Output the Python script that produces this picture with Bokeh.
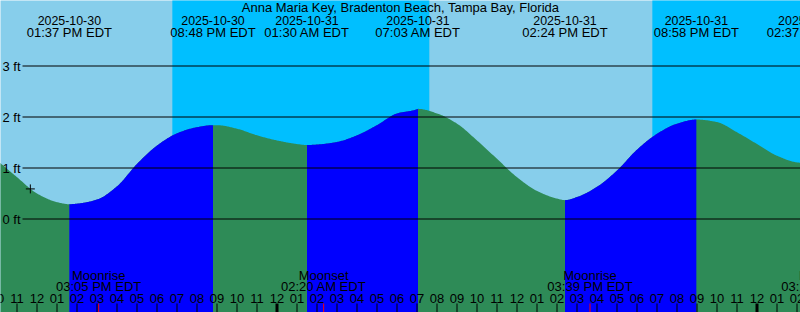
import numpy as np
import pandas as pd
from bokeh.plotting import figure
from bokeh.models import Range1d
from bokeh.embed import file_html
from bokeh.resources import INLINE
from bokeh.core.properties import value

TITLE = "Anna Maria Key, Bradenton Beach, Tampa Bay, Florida"
BASE = "2025-10-30 00:00"

# hourly water level (ft), 2025-10-30 10:00 .. 2025-11-01 03:00 EDT
hour_stamps = list(pd.date_range("2025-10-30 10:00", "2025-11-01 03:00", freq="h").strftime("%Y-%m-%d %H:%M"))
hour_heights = [1.15, 0.82, 0.50, 0.33, 0.30, 0.38, 0.64, 1.08, 1.44, 1.68,
                1.80, 1.84, 1.77, 1.64, 1.54, 1.47, 1.46, 1.51, 1.64, 1.84,
                2.07, 2.15, 2.07, 1.87, 1.54, 1.18, 0.82, 0.55, 0.40, 0.43,
                0.63, 0.95, 1.36, 1.67, 1.87, 1.95, 1.90, 1.70, 1.47, 1.24,
                1.11, 1.10]
hour_labels = list(pd.to_datetime(hour_stamps).strftime("%I"))

# tide extremes
ext_stamps = ["2025-10-30 13:37", "2025-10-30 20:48", "2025-10-31 01:30",
              "2025-10-31 07:03", "2025-10-31 14:24", "2025-10-31 20:58",
              "2025-11-01 02:37"]
ext_heights = [0.29, 1.84, 1.45, 2.16, 0.37, 1.95, 1.09]
ext_dates = list(pd.to_datetime(ext_stamps).strftime("%Y-%m-%d"))
ext_times = [s + " EDT" for s in pd.to_datetime(ext_stamps).strftime("%I:%M %p")]

# moon events
moon_stamps = ["2025-10-30 15:05", "2025-10-31 02:20", "2025-10-31 15:39", "2025-11-01 03:21"]
moon_events = ["Moonrise", "Moonset", "Moonrise", "Moonset"]
moon_times = [s + " EDT" for s in pd.to_datetime(moon_stamps).strftime("%I:%M %p")]

# night (sunset -> sunrise)
sunset_stamps = ["2025-10-30 18:46", "2025-10-31 18:46"]
sunrise_stamps = ["2025-10-31 07:37", "2025-11-01 07:38"]

# current time marker
now_stamp = "2025-10-30 11:40"
now_height = 0.59

grid_levels = [0, 1, 2, 3]
grid_labels = ["0 ft", "1 ft", "2 ft", "3 ft"]


def hrs(stamps):
    return [(pd.Timestamp(s) - pd.Timestamp(BASE)) / pd.Timedelta(hours=1) for s in stamps]


def smooth(x, y, xn):
    """Monotone cubic (Fritsch-Carlson) drawing of the read points."""
    x = np.asarray(x, float)
    y = np.asarray(y, float)
    h = np.diff(x)
    d = np.diff(y) / h
    m = np.zeros_like(y)
    for i in range(1, len(x) - 1):
        if d[i - 1] * d[i] > 0:
            w1 = 2 * h[i] + h[i - 1]
            w2 = h[i] + 2 * h[i - 1]
            m[i] = (w1 + w2) / (w1 / d[i - 1] + w2 / d[i])
    m[0] = d[0]
    m[-1] = d[-1]
    idx = np.clip(np.searchsorted(x, xn, side="right") - 1, 0, len(x) - 2)
    t = (xn - x[idx]) / h[idx]
    h00 = 2 * t**3 - 3 * t**2 + 1
    h10 = t**3 - 2 * t**2 + t
    h01 = -2 * t**3 + 3 * t**2
    h11 = t**3 - t**2
    return (h00 * y[idx] + h10 * h[idx] * m[idx]
            + h01 * y[idx + 1] + h11 * h[idx] * m[idx + 1])


hour_t = hrs(hour_stamps)
ext_t = hrs(ext_stamps)
moon_t = hrs(moon_stamps)
night_l = hrs(sunset_stamps)
night_r = hrs(sunrise_stamps)
now_t = hrs([now_stamp])[0]

DAY = "#87CEEB"
NIGHT = "#00BFFF"
FALL = "#2E8B57"
RISE = "#0000FF"
FONT = value("Liberation Sans")
FS = "13px"
FS_DATE = "12.4px"

p = figure(width=800, height=312,
           x_range=Range1d(13 - 56.5 / 20, 13 + (800 - 56.5) / 20),
           y_range=Range1d(-(312 - 218.5) / 51, 218.5 / 51),
           x_axis_type=None, y_axis_type=None, toolbar_location=None,
           output_backend="svg", min_border=0,
           background_fill_color=DAY, border_fill_color=DAY,
           outline_line_color=None)
p.xgrid.visible = False
p.ygrid.visible = False
p.extra_x_ranges = {"px": Range1d(0, 800)}
p.extra_y_ranges = {"px": Range1d(312, 0)}

# night shading
p.quad(left=night_l, right=night_r, bottom=-10, top=10,
       fill_color=NIGHT, line_color=None)

# tide curve
pts = sorted(zip(hour_t + ext_t, hour_heights + ext_heights))
px_ = [a for a, _ in pts]
py_ = [b for _, b in pts]
dense = np.union1d(np.arange(px_[0], px_[-1], 0.04), np.array(px_))
curve = smooth(px_, py_, dense)
p.varea(x=dense, y1=-10, y2=curve, fill_color=FALL)
bounds = [px_[0]] + ext_t + [px_[-1]]
for a, b in zip(bounds[:-1], bounds[1:]):
    mask = (dense >= a) & (dense <= b)
    seg_x = dense[mask]
    seg_y = curve[mask]
    if len(seg_x) > 1 and seg_y[-1] > seg_y[0]:
        p.varea(x=seg_x, y1=-10, y2=seg_y, fill_color=RISE)

# gridlines and labels
p.segment(x0=22, x1=800, y0=grid_levels, y1=grid_levels, x_range_name="px",
          line_color="black", line_width=1)
p.text(x=2, y=grid_levels, text=grid_labels, x_range_name="px",
       text_font=FONT, text_font_size=FS, text_color="black",
       text_baseline="alphabetic", y_offset=0)

# current time marker
p.scatter(x=[now_t], y=[now_height], marker="cross", size=9,
          line_color="black", line_width=1)

# title and extreme labels
p.text(x=400, y=7, text=[TITLE], x_range_name="px", y_range_name="px",
       text_font=FONT, text_font_size=FS, text_align="center",
       text_baseline="alphabetic", text_color="black")
p.text(x=ext_t, y=20, text=ext_dates, y_range_name="px",
       text_font=FONT, text_font_size=FS_DATE, text_align="center",
       text_baseline="alphabetic", text_color="black")
p.text(x=ext_t, y=32, text=ext_times, y_range_name="px",
       text_font=FONT, text_font_size=FS, text_align="center",
       text_baseline="alphabetic", text_color="black")

# moon labels
p.text(x=moon_t, y=274.5, text=moon_events, y_range_name="px",
       text_font=FONT, text_font_size=FS, text_align="center",
       text_baseline="alphabetic", text_color="black")
p.text(x=moon_t, y=285.5, text=moon_times, y_range_name="px",
       text_font=FONT, text_font_size=FS, text_align="center",
       text_baseline="alphabetic", text_color="black")

# hour ticks and labels
p.text(x=hour_t, y=298, text=hour_labels, y_range_name="px",
       text_font=FONT, text_font_size=FS, text_align="center",
       text_baseline="alphabetic", text_color="black")
midnight = [t for t in hour_t if t % 24 == 0]
other = [t for t in hour_t if t % 24 != 0]
p.segment(x0=other, x1=other, y0=303, y1=312, y_range_name="px",
          line_color="black", line_width=1)
p.segment(x0=midnight, x1=midnight, y0=303, y1=312, y_range_name="px",
          line_color="black", line_width=3)
p.segment(x0=moon_t, x1=moon_t, y0=303, y1=312, y_range_name="px",
          line_color="red", line_width=1)

open("out.html", "w").write(file_html(p, INLINE))
